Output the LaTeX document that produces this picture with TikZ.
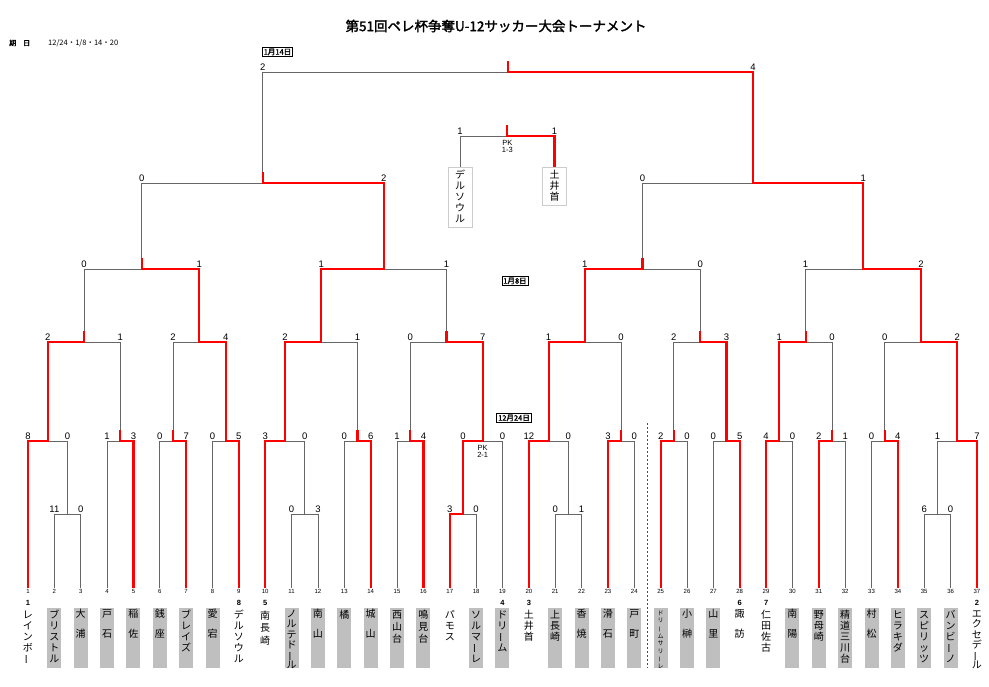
\documentclass[tikz,border=0pt]{standalone}
\usepackage{fontspec}
\usepackage{graphicx}
\setmainfont{Liberation Sans}
\newfontfamily\jp{Noto Sans CJK JP}
\newfontfamily\jpbold[FakeBold=2]{Noto Sans CJK JP}
\usetikzlibrary{calc}
\pgfdeclarelayer{back}
\pgfsetlayers{back,main}

% vertical team names, one character per row
\makeatletter
\newdimen\tate@len
\newcommand\tate[2][11pt]{\vbox{\offinterlineskip\tate@len=#1\relax\tate@#2\@nil}}
\def\tate@#1{\ifx#1\@nil\else\tate@c#1\expandafter\tate@\fi}
\def\tate@c#1{\hbox to 12pt{\hss\vrule width0pt height.8\tate@len depth.2\tate@len\relax
  \smash{\ifx#1ー\rotatebox[origin=c]{90}{ー}\else#1\fi}\hss}}
\newcommand\tname[2][11pt]{\vbox to 58pt{\tate[#1]{#2}\vss}}
\makeatother

% one match: [style] name, winner, loser, bar y, winner score, loser score
\newcommand\game[7][win]{%
  \path ($(#3)!.5!(#4)$) coordinate (#2-c);
  \coordinate (#2) at (#2-c |- 0,#5);
  \begin{pgfonlayer}{back}\draw[lose] (#4) |- (#2);\end{pgfonlayer}
  \draw[#1] (#3) |- (#2) -- ++(0,-11);
  \node[score] (#2-w) at (#3 |- #2) {#6};
  \node[score] (#2-l) at (#4 |- #2) {#7};
}

\begin{document}
\begin{tikzpicture}[x=1pt, y=-1pt,
    lose/.style={black!60, line width=.8pt},
    win/.style={red, line width=2.2pt},
    score/.style={anchor=south, inner sep=1.5pt, font=\fontsize{9.5}{10}\selectfont},
    teamno/.style={anchor=north, inner sep=1pt, font=\fontsize{6}{6}\selectfont},
    seed/.style={inner sep=0pt, font=\bfseries\fontsize{7.5}{8}\selectfont},
    plainname/.style={anchor=north, inner sep=1pt, font=\jp\fontsize{10}{10}\selectfont},
    namebox/.style={plainname, fill=gray!50},
    tinyname/.style={namebox, font=\jp\fontsize{6}{6}\selectfont},
    thirdbox/.style={anchor=north, draw=gray!40, fill=white, line width=.6pt, inner xsep=6pt, inner ysep=2.5pt, font=\jp\fontsize{10}{10}\selectfont},
    daybox/.style={draw, line width=.6pt, inner sep=1.5pt, font=\jpbold\fontsize{7.5}{8}\selectfont},
    pk/.style={anchor=north, align=center, inner sep=0pt, font=\fontsize{7.5}{7}\selectfont},
    sepline/.style={black!70, line width=.7pt, dash pattern=on 2pt off 2pt}
]
\begin{pgfonlayer}{back}
\fill[white] (0,0) rectangle (989,687);
\end{pgfonlayer}
\useasboundingbox (0,0) rectangle (989,687);

% === Heading ===
\node[font=\jpbold\fontsize{13.5}{14}\selectfont] (title) at (496,26) {第51回ペレ杯争奪U-12サッカー大会トーナメント};
\node[anchor=west, inner sep=0pt, font=\jpbold\fontsize{7}{8}\selectfont] (kijitsu) at (9,43) {期　日};
\node[anchor=west, inner sep=0pt, font=\jp\fontsize{7.5}{8}\selectfont] (dates) at (48,43) {12/24・1/8・14・20};

% === Teams ===
\foreach \i in {1,...,37} {
  \coordinate (t\i) at ({28+(\i-1)*26.36},588);
  \node[teamno] (no\i) at (t\i) {\i};
}

% seeds
\node[seed] (s1) at (t1 |- 0,603) {1};
\node[seed] (s9) at (t9 |- 0,603) {8};
\node[seed] (s10) at (t10 |- 0,603) {5};
\node[seed] (s19) at (t19 |- 0,603) {4};
\node[seed] (s20) at (t20 |- 0,603) {3};
\node[seed] (s28) at (t28 |- 0,603) {6};
\node[seed] (s29) at (t29 |- 0,603) {7};
\node[seed] (s37) at (t37 |- 0,603) {2};

% names
\node[plainname] (n1) at (t1 |- 0,608) {\tname{レインボー}};
\node[namebox] (n2) at (t2 |- 0,608) {\tname{ブリストル}};
\node[namebox] (n3) at (t3 |- 0,608) {\tname[10pt]{大　浦}};
\node[namebox] (n4) at (t4 |- 0,608) {\tname[10pt]{戸　石}};
\node[namebox] (n5) at (t5 |- 0,608) {\tname[10pt]{稲　佐}};
\node[namebox] (n6) at (t6 |- 0,608) {\tname[10pt]{銭　座}};
\node[namebox] (n7) at (t7 |- 0,608) {\tname{ブレイズ}};
\node[namebox] (n8) at (t8 |- 0,608) {\tname[10pt]{愛　宕}};
\node[plainname] (n9) at (t9 |- 0,608) {\tname{デルソウル}};
\node[plainname] (n10) at (t10 |- 0,608) {\tname[12.5pt]{南長崎}};
\node[namebox] (n11) at (t11 |- 0,608) {\tname[10.3pt]{ノルテドール}};
\node[namebox] (n12) at (t12 |- 0,608) {\tname[10pt]{南　山}};
\node[namebox] (n13) at (t13 |- 0,608) {\tname{橘}};
\node[namebox] (n14) at (t14 |- 0,608) {\tname[10pt]{城　山}};
\node[namebox] (n15) at (t15 |- 0,608) {\tname[12pt]{西山台}};
\node[namebox] (n16) at (t16 |- 0,608) {\tname[12pt]{鳴見台}};
\node[plainname] (n17) at (t17 |- 0,608) {\tname{パモス}};
\node[namebox] (n18) at (t18 |- 0,608) {\tname{ソルマーレ}};
\node[namebox] (n19) at (t19 |- 0,608) {\tname{ドリーム}};
\node[plainname] (n20) at (t20 |- 0,608) {\tname{土井首}};
\node[namebox] (n21) at (t21 |- 0,608) {\tname{上長崎}};
\node[namebox] (n22) at (t22 |- 0,608) {\tname[10pt]{香　焼}};
\node[namebox] (n23) at (t23 |- 0,608) {\tname[10pt]{滑　石}};
\node[namebox] (n24) at (t24 |- 0,608) {\tname[10pt]{戸　町}};
\node[tinyname] (n25) at (t25 |- 0,608) {\tname[7.6pt]{ドリームサリーレ}};
\node[namebox] (n26) at (t26 |- 0,608) {\tname[10pt]{小　榊}};
\node[namebox] (n27) at (t27 |- 0,608) {\tname[10pt]{山　里}};
\node[plainname] (n28) at (t28 |- 0,608) {\tname[10pt]{諏　訪}};
\node[plainname] (n29) at (t29 |- 0,608) {\tname{仁田佐古}};
\node[namebox] (n30) at (t30 |- 0,608) {\tname[10pt]{南　陽}};
\node[namebox] (n31) at (t31 |- 0,608) {\tname{野母崎}};
\node[namebox] (n32) at (t32 |- 0,608) {\tname{精道三川台}};
\node[namebox] (n33) at (t33 |- 0,608) {\tname[10pt]{村　松}};
\node[namebox] (n34) at (t34 |- 0,608) {\tname{ヒラキダ}};
\node[namebox] (n35) at (t35 |- 0,608) {\tname{スピリッツ}};
\node[namebox] (n36) at (t36 |- 0,608) {\tname{バンビーノ}};
\node[plainname] (n37) at (t37 |- 0,608) {\tname[10.3pt]{エクセデール}};

% block separator
\coordinate (sepT) at (647,423);
\coordinate (sepB) at (647,668);
\draw[sepline] (sepT) -- (sepB);

% === Preliminary ===
\game[lose]{p1}{t2}{t3}{514}{11}{0}
\game[lose]{p2}{t12}{t11}{514}{3}{0}
\game{p3}{t17}{t18}{514}{3}{0}
\game[lose]{p4}{t22}{t21}{514}{1}{0}
\game[lose]{p5}{t35}{t36}{514}{6}{0}

% === 12/24: first round ===
\game{a1}{t1}{p1}{441}{8}{0}
\game{a2}{t5}{t4}{441}{3}{1}
\game{a3}{t7}{t6}{441}{7}{0}
\game{a4}{t9}{t8}{441}{5}{0}
\game{a5}{t10}{p2}{441}{3}{0}
\game{a6}{t14}{t13}{441}{6}{0}
\game{a7}{t16}{t15}{441}{4}{1}
\game{a8}{p3}{t19}{441}{0}{0}
\game{a9}{t20}{p4}{441}{12}{0}
\game{a10}{t23}{t24}{441}{3}{0}
\game{a11}{t25}{t26}{441}{2}{0}
\game{a12}{t28}{t27}{441}{5}{0}
\game{a13}{t29}{t30}{441}{4}{0}
\game{a14}{t31}{t32}{441}{2}{1}
\game{a15}{t34}{t33}{441}{4}{0}
\game{a16}{t37}{p5}{441}{7}{1}
\node[pk] (pk1) at ([yshift=-4pt]a8) {PK\\2-1};

% === second round ===
\game{b1}{a1}{a2}{342}{2}{1}
\game{b2}{a4}{a3}{342}{4}{2}
\game{b3}{a5}{a6}{342}{2}{1}
\game{b4}{a8}{a7}{342}{7}{0}
\game{b5}{a9}{a10}{342}{1}{0}
\game{b6}{a12}{a11}{342}{3}{2}
\game{b7}{a13}{a14}{342}{1}{0}
\game{b8}{a16}{a15}{342}{2}{0}

% === 1/8: quarter finals ===
\game{c1}{b2}{b1}{269}{1}{0}
\game{c2}{b3}{b4}{269}{1}{1}
\game{c3}{b5}{b6}{269}{1}{0}
\game{c4}{b8}{b7}{269}{2}{1}

% === 1/14: semi finals, final ===
\game{d1}{c2}{c1}{183}{2}{0}
\game{d2}{c4}{c3}{183}{1}{0}
\game{fin}{d2}{d1}{72}{4}{2}

% third place
\node[thirdbox] (dels) at (460,167) {\tate{デルソウル}};
\node[thirdbox] (doi) at (554.5,167) {\tate{土井首}};
\game{m3}{doi.north}{dels.north}{136}{1}{1}
\node[pk] (pk3) at ([yshift=-4pt]m3) {PK\\1-3};

% match days
\node[daybox] (day3) at (277.5,52) {1月14日};
\node[daybox] (day2) at (515,281) {1月8日};
\node[daybox] (day1) at (514,418) {12月24日};
\end{tikzpicture}
\end{document}
